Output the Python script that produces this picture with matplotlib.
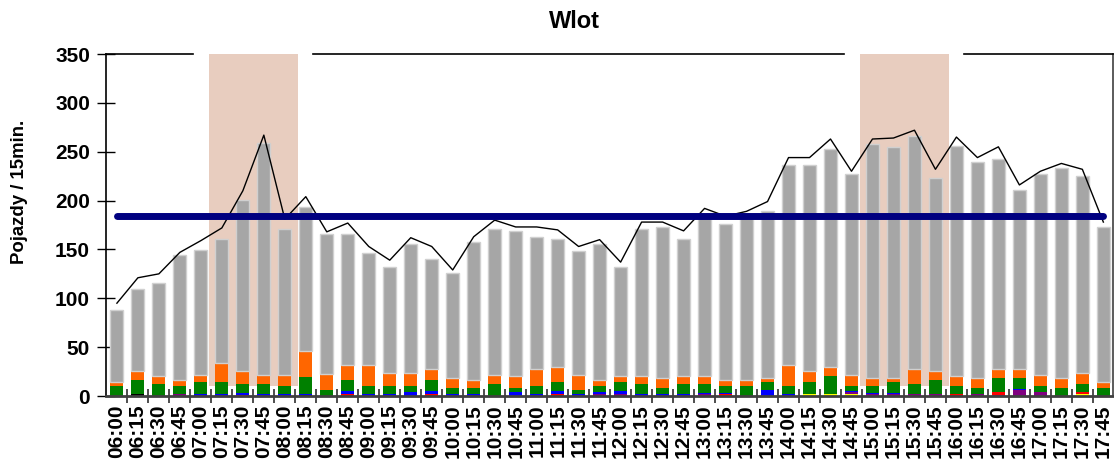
import numpy as np
import matplotlib
matplotlib.use("Agg")
import matplotlib.pyplot as plt

plt.rcParams['font.family'] = ['Liberation Sans', 'DejaVu Sans']
plt.rcParams['font.weight'] = 'bold'

# Time slots (15 min)
times = ["06:00", "06:15", "06:30", "06:45", "07:00", "07:15", "07:30", "07:45",
         "08:00", "08:15", "08:30", "08:45", "09:00", "09:15", "09:30", "09:45",
         "10:00", "10:15", "10:30", "10:45", "11:00", "11:15", "11:30", "11:45",
         "12:00", "12:15", "12:30", "12:45", "13:00", "13:15", "13:30", "13:45",
         "14:00", "14:15", "14:30", "14:45", "15:00", "15:15", "15:30", "15:45",
         "16:00", "16:15", "16:30", "16:45", "17:00", "17:15", "17:30", "17:45"]

# Bar totals (top of the grey part)
total = [88, 110, 116, 144, 149, 161, 201, 259, 171, 193, 166, 166, 146, 132, 156, 140,
         126, 158, 171, 169, 163, 161, 148, 156, 132, 171, 173, 161, 184, 176, 185, 189,
         236, 236, 253, 227, 258, 255, 266, 223, 256, 239, 243, 211, 227, 233, 225, 173]

# Small vehicle groups, stacked from the bottom
yellow = [0, 0, 0, 0, 0, 0, 0, 0, 0, 0, 0, 0, 0, 0, 0, 0,
          0, 0, 0, 0, 0, 0, 0, 0, 0, 0, 0, 0, 0, 0, 0, 0,
          0, 2, 2, 2, 0, 0, 0, 0, 0, 0, 0, 0, 0, 0, 2, 0]
purple = [0, 0, 0, 2, 0, 0, 0, 0, 0, 0, 0, 0, 0, 0, 0, 0,
          0, 0, 0, 0, 0, 0, 0, 2, 2, 0, 0, 0, 2, 0, 0, 0,
          0, 0, 0, 2, 2, 2, 2, 2, 0, 2, 1, 6, 4, 0, 0, 0]
black = [0, 2, 0, 0, 0, 0, 0, 0, 0, 1, 0, 0, 0, 0, 0, 0,
         0, 0, 0, 0, 0, 0, 0, 0, 0, 0, 0, 0, 0, 0, 0, 0,
         0, 0, 0, 0, 0, 0, 0, 0, 0, 0, 0, 0, 0, 0, 0, 0]
red = [0, 0, 0, 0, 0, 0, 1, 0, 0, 0, 0, 2, 0, 0, 0, 2,
       0, 0, 0, 0, 0, 2, 0, 0, 0, 0, 0, 0, 0, 2, 0, 0,
       0, 0, 0, 0, 0, 0, 0, 0, 2, 0, 3, 0, 0, 0, 2, 0]
blue = [0, 0, 0, 0, 2, 2, 2, 2, 2, 1, 0, 3, 2, 2, 4, 3,
        2, 2, 0, 4, 2, 3, 2, 2, 3, 2, 2, 2, 1, 1, 0, 6,
        2, 0, 0, 1, 1, 1, 0, 0, 0, 0, 0, 1, 0, 0, 0, 0]
green = [10, 14, 12, 8, 12, 12, 9, 10, 8, 17, 6, 11, 8, 8, 6, 11,
         6, 6, 12, 4, 8, 9, 4, 6, 9, 10, 6, 10, 9, 7, 10, 8,
         8, 12, 18, 5, 7, 11, 10, 14, 8, 6, 14, 11, 6, 8, 8, 8]
orange = [4, 10, 8, 6, 8, 20, 14, 10, 12, 27, 17, 16, 22, 14, 14, 12,
          10, 8, 10, 12, 18, 16, 16, 6, 6, 8, 10, 8, 8, 6, 6, 4,
          22, 12, 10, 12, 8, 4, 16, 10, 10, 10, 10, 10, 12, 10, 12, 6]

# Black line and reference level
line_vals = [95, 121, 125, 147, 159, 172, 210, 267, 181, 204, 168, 177, 153, 139, 162, 153,
             129, 163, 180, 173, 173, 170, 153, 160, 137, 178, 178, 169, 192, 184, 189, 199,
             244, 244, 263, 230, 263, 264, 272, 232, 265, 244, 255, 216, 230, 238, 232, 178]
level = 184.5

# Peak hour spans (first and last slot index)
peaks = [(5, 8), (36, 39)]

x = np.arange(len(times))
fig = plt.figure(figsize=(11.14, 4.65), dpi=100)
ax = fig.add_axes([106 / 1114, 69 / 465, 1007 / 1114, 342 / 465])

for a, b in peaks:
    ax.axvspan(a - 0.6, b + 0.65, ymin=10 / 350, ymax=1, color='#E8CDBF', zorder=0, lw=0)

segs = [(yellow, '#FFFF00'), (purple, '#800080'), (black, '#000000'), (red, '#FF0000'),
        (blue, '#0000FF'), (green, '#008000'), (orange, '#FF6600')]
bottom = np.zeros(len(times))
for vals, col in segs:
    v = np.array(vals, dtype=float)
    ax.bar(x, v, 0.62, bottom=bottom, color=col, lw=0, zorder=2)
    bottom += v
grey = np.array(total) - bottom
ax.bar(x, grey, 0.62, bottom=bottom, color='#A6A6A6', edgecolor='#D0D0D0', lw=1, zorder=2)

ax.plot(x, line_vals, color='black', lw=1, zorder=3)
ax.plot([x[0], x[-1]], [level, level], color='#000080', lw=5, solid_capstyle='round', zorder=4)

ax.set_xlim(-0.52, 47.46)
ax.set_ylim(0, 350)
ax.set_yticks(np.arange(0, 351, 50))
ax.tick_params(axis='y', direction='inout', length=13, width=1, labelsize=15, pad=5)
ax.set_xticks(x)
ax.set_xticklabels(times, rotation=90, fontsize=15, fontweight='bold')
ax.tick_params(axis='x', length=0, pad=6)
ax.set_xticks(x[:-1] + 0.5, minor=True)
ax.tick_params(axis='x', which='minor', direction='inout', length=10, width=1.2, color='#303030')
for lab in ax.get_yticklabels():
    lab.set_fontweight('bold')

ax.spines['top'].set_visible(False)
ax.spines['bottom'].set_linewidth(2)
ax.spines['bottom'].set_color('#404040')
ax.spines['left'].set_linewidth(1.2)
ax.spines['right'].set_linewidth(1.2)
ax.spines['right'].set_color('#404040')

# top border with gaps around the peak spans
edges = [-0.52]
for a, b in peaks:
    edges += [a - 1.37, b + 1.35]
edges.append(47.46)
for i in range(0, len(edges), 2):
    ax.plot([edges[i], edges[i + 1]], [350, 350], color='black', lw=1.2, clip_on=False, zorder=5)

fig.text(20 / 1114, 1 - 192 / 465, "Pojazdy / 15min.", rotation=90, ha='center', va='center',
         fontsize=13.4, fontweight='bold')
fig.text(574 / 1114, 1 - 22 / 465, "Wlot", ha='center', va='center', fontsize=17, fontweight='bold')

fig.savefig("out.png", dpi=100)
